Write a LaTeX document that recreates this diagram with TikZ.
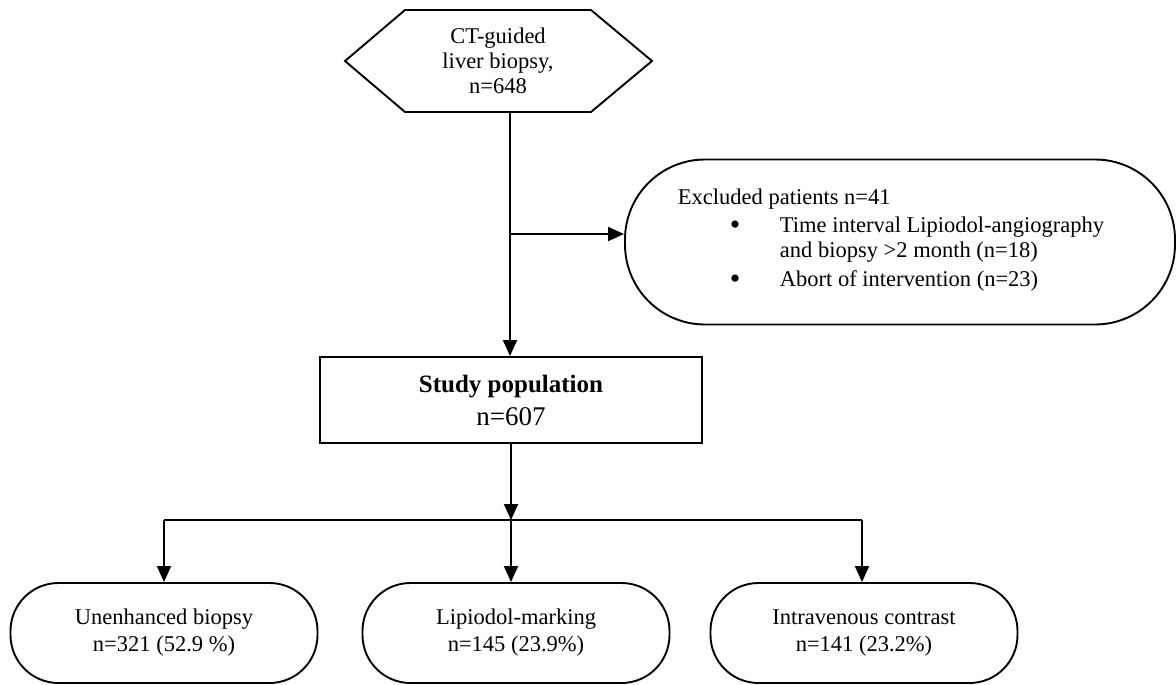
\documentclass[tikz,border=0pt]{standalone}
\usepackage{fontspec}
\setmainfont{Liberation Serif}
\usetikzlibrary{arrows.meta}
\begin{document}
\begin{tikzpicture}[x=1pt,y=-1pt,line width=1.9pt,
  >={Triangle[length=16pt,width=14pt]},
  txt/.style={font=\fontsize{22.5}{25}\selectfont,align=center,inner sep=0pt},
  item/.style={font=\fontsize{22.5}{24}\selectfont,inner sep=0pt},
  bul/.style={font=\fontsize{30}{30}\selectfont,inner sep=0pt},
  rectbox/.style={draw,minimum width=382pt,minimum height=86pt,align=center,inner sep=0pt},
  excbox/.style={draw,rounded corners=80pt,minimum width=550pt,minimum height=165pt,inner sep=0pt},
  grpbox/.style={draw,rounded corners=48pt,minimum width=307pt,minimum height=100pt,inner sep=0pt,
     font=\fontsize{22.5}{27}\selectfont,align=center}]
\useasboundingbox (0,0) rectangle (1176,685);
% hexagon start
\draw (345,61) -- (405,10) -- (591,10) -- (652,61) -- (591,112) -- (405,112) -- cycle;
\node[txt] (hex) at (498,61) {CT-guided\\liver biopsy,\\n=648};
\coordinate (hexb) at (510,112);
% study population
\node[rectbox] (study) at (511,400) {};
\node[inner sep=0pt,anchor=base,font=\fontsize{25}{28}\selectfont\bfseries] (studyt) at (511,392) {Study population};
\node[inner sep=0pt,anchor=base,font=\fontsize{27}{30}\selectfont] (studyn) at (511,425) {n=607};
% excluded
\node[excbox] (excl) at (900,242) {};
\node[item,anchor=base west] (ex0) at (677,204) {Excluded patients n=41};
\node[bul,anchor=base] (b1) at (735,234) {•};
\node[item,anchor=base west] (ex1) at (779,232) {Time interval Lipiodol-angiography};
\node[item,anchor=base west] (ex2) at (779,257) {and biopsy >2 month (n=18)};
\node[bul,anchor=base] (b2) at (735,288) {•};
\node[item,anchor=base west] (ex3) at (779,286) {Abort of intervention (n=23)};
% groups
\node[grpbox] (g1) at (164,633) {Unenhanced biopsy\\n=321 (52.9 \%)};
\node[grpbox] (g2) at (516,633) {Lipiodol-marking\\n=145 (23.9\%)};
\node[grpbox] (g3) at (864,633) {Intravenous contrast\\n=141 (23.2\%)};
% connectors
\coordinate (br) at (510,234);
\coordinate (split) at (511,520);
\coordinate (sl) at (164,520);
\coordinate (sr) at (862,520);
\draw[->] (hexb) -- (hexb |- study.north);
\draw[->] (br) -- (br -| excl.west);
\draw[->] (study.south) -- (split);
\draw (sl) -- (sr);
\draw[->] (sl) -- (sl |- g1.north);
\draw[->] (split) -- (split |- g2.north);
\draw[->] (sr) -- (sr |- g3.north);
\end{tikzpicture}
\end{document}
